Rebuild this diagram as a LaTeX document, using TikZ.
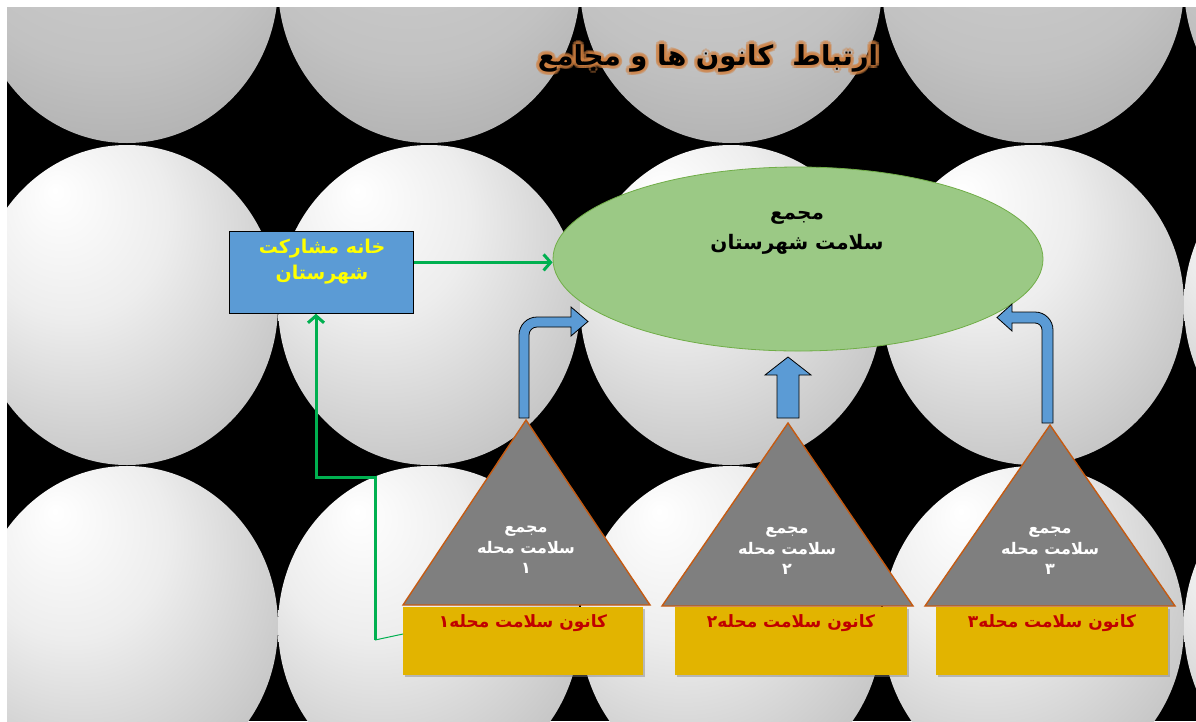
\documentclass[tikz,border=0pt]{standalone}
\usepackage{fontspec}
\usetikzlibrary{arrows.meta,calc,shapes.geometric,shadows}
\TeXXeTstate=1
\newfontfamily\fa[Script=Arabic]{DejaVu Sans}
\definecolor{bluebox}{HTML}{5B9BD5}
\definecolor{ellfill}{HTML}{9BC985}
\definecolor{elldraw}{HTML}{70AD47}
\definecolor{gline}{HTML}{00B050}
\definecolor{trifill}{HTML}{7F7F7F}
\definecolor{tridraw}{HTML}{C55A11}
\definecolor{ybox}{HTML}{E2B400}
\definecolor{redtxt}{HTML}{C00000}
\definecolor{glowc}{HTML}{D08040}
\definecolor{yeltxt}{HTML}{FFFF00}
\pgfdeclareradialshading{sph}{\pgfpoint{-12bp}{18bp}}{color(0bp)=(white); color(16bp)=(white!93!black); color(38bp)=(white!76!black); color(50bp)=(white!64!black); color(72bp)=(white!60!black)}
\pgfdeclareradialshading{sphtop}{\pgfpoint{-5bp}{30bp}}{color(0bp)=(white!84!black); color(30bp)=(white!76!black); color(50bp)=(white!64!black); color(72bp)=(white!60!black)}
\tikzset{
  sphere/.style={shading=sph},
  spheretop/.style={shading=sphtop},
  barrow/.style={fill=bluebox, draw=black, line width=0.8pt, line join=miter},
  gconn/.style={draw=gline, line width=3pt},
  gtip/.style={-{Straight Barb[length=7pt,width=16pt]}},
  tri/.style={fill=trifill, draw=tridraw, line width=1.4pt, line join=miter},
  ybx/.style={fill=ybox, draw=none, minimum width=240pt, minimum height=68pt, anchor=north west, inner sep=0pt,
              drop shadow={shadow xshift=2pt, shadow yshift=-2pt, opacity=0.45}},
  titletxt/.style={font=\fa\bfseries\fontsize{27.5}{34}\selectfont, inner sep=0pt},
  tritxt/.style={text=white, font=\fa\bfseries\fontsize{16}{20.5}\selectfont, align=center, inner sep=0pt},
  ytxt/.style={text=redtxt, font=\fa\bfseries\fontsize{17}{21}\selectfont, inner sep=0pt},
}
\begin{document}
\begin{tikzpicture}[x=1pt,y=-1pt]
\useasboundingbox (0,0) rectangle (1196,721);
\fill[white] (0,0) rectangle (1196,721);
\fill[black] (7,7) rectangle (1196,721);
% background spheres
\begin{scope}
  \clip (7,7) rectangle (1196,143);
  \foreach \cx in {127,429,731,1033,1335}
    \shade[spheretop] (\cx,-15) ellipse [x radius=151pt, y radius=158pt];
\end{scope}
\begin{scope}
  \clip (7,144) rectangle (1196,465);
  \foreach \cx in {127,429,731,1033,1335}
    \shade[sphere] (\cx,305) ellipse [x radius=151pt, y radius=160pt];
\end{scope}
\begin{scope}
  \clip (7,466) rectangle (1196,721);
  \foreach \cx in {127,429,731,1033,1335}
    \shade[sphere] (\cx,626) ellipse [x radius=151pt, y radius=160pt];
\end{scope}

% title with glow
\foreach \a in {0,30,...,330}{
  \node[titletxt, text=glowc, opacity=0.4] (glow\a) at ($(708,58)+(\a:3.5pt)$) {\beginR ارتباط\ \ کانون ها و مجامع\endR};
}
\node[titletxt, text=black] (title) at (708,58) {\beginR ارتباط\ \ کانون ها و مجامع\endR};

% blue box
\node[draw=black, fill=bluebox, line width=0.8pt, minimum width=184pt, minimum height=82pt, anchor=north west, inner sep=0pt] (house) at (229,231) {};
\node[text=yeltxt, font=\fa\bfseries\fontsize{19}{26}\selectfont, align=center, inner sep=0pt] (housetxt) at (322,262) {\beginR خانه مشارکت\endR\\\beginR شهرستان\endR};

% ellipse
\node[ellipse, draw=elldraw, fill=ellfill, line width=0.8pt, minimum width=490pt, minimum height=184pt, inner sep=0pt] (council) at (798,259) {};
\node[text=black, font=\fa\bfseries\fontsize{20}{30}\selectfont, align=center, inner sep=0pt] (counciltxt) at (797,233) {\beginR مجمع\endR\\\beginR سلامت شهرستان\endR};

% green connectors
\coordinate (g1) at (375,640);
\coordinate (g2) at (375,477);
\coordinate (g3) at (316,477);
\draw[gconn, gtip] ([yshift=10pt]house.east) -- ([yshift=10pt]house.east -| council.west);
\draw[gconn, gtip, line join=miter] (g1) -- (g2) -- (g3) -- (house.south -| g3);

% blue block arrows
\filldraw[barrow] (519,418) -- (519,335) arc[start angle=180, end angle=90, radius=18pt]
  -- (571,317) -- (571,307) -- (588,321.5) -- (571,336) -- (571,327) -- (537,327)
  arc[start angle=90, end angle=180, radius=8pt] -- (529,418) -- cycle;
\filldraw[barrow] (777,418) -- (777,375) -- (765,375) -- (788,357) -- (811,375) -- (799,375) -- (799,418) -- cycle;
\filldraw[barrow] (1053,423) -- (1053,330) arc[start angle=0, end angle=90, radius=18pt]
  -- (1012,312) -- (1012,304) -- (997,317.5) -- (1012,331) -- (1012,323) -- (1035,323)
  arc[start angle=90, end angle=0, radius=7pt] -- (1042,423) -- cycle;

% yellow boxes
\node[ybx, minimum width=240pt] (b1) at (403,607) {};
\node[ybx, minimum width=232pt] (b2) at (675,607) {};
\node[ybx, minimum width=232pt] (b3) at (936,607) {};
\node[ytxt] (b1txt) at (523,623) {\beginR کانون سلامت محله۱\endR};
\node[ytxt] (b2txt) at (791,623) {\beginR کانون سلامت محله۲\endR};
\node[ytxt] (b3txt) at (1052,623) {\beginR کانون سلامت محله۳\endR};
\draw[draw=gline, line width=1pt] ([yshift=-27pt]b1.north west) -- (g1);

% triangles
\filldraw[tri] (526,420) -- (650,605) -- (403,605) -- cycle;
\filldraw[tri] (788,423) -- (913,606) -- (662,606) -- cycle;
\filldraw[tri] (1050,425) -- (1175,606) -- (925,606) -- cycle;
\node[tritxt] (t1) at (526,550) {\beginR مجمع\endR\\\beginR سلامت محله\endR\\\beginR ۱\endR};
\node[tritxt] (t2) at (787,551) {\beginR مجمع\endR\\\beginR سلامت محله\endR\\\beginR ۲\endR};
\node[tritxt] (t3) at (1050,551) {\beginR مجمع\endR\\\beginR سلامت محله\endR\\\beginR ۳\endR};
\end{tikzpicture}
\end{document}
